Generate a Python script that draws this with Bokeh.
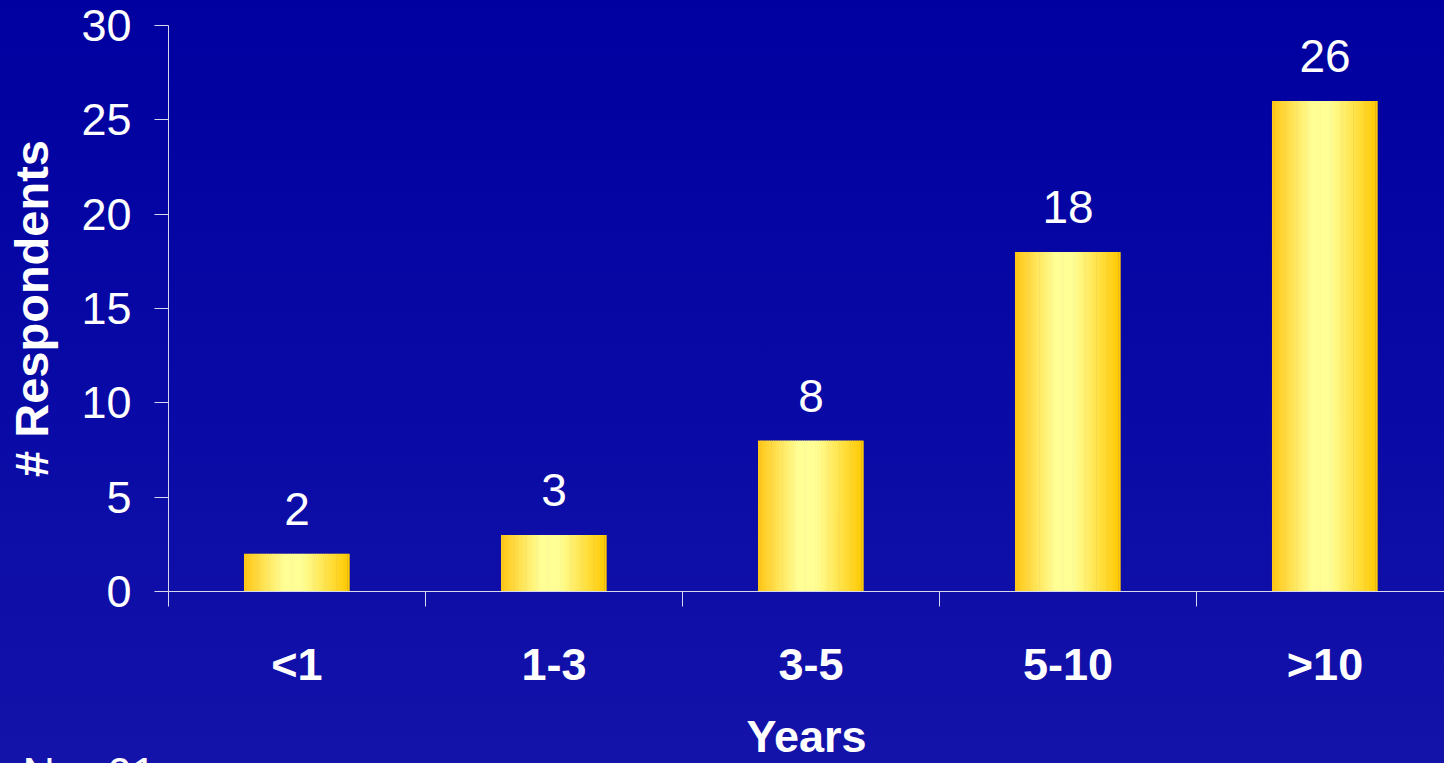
import re
from bokeh.plotting import figure
from bokeh.models import Range1d, FixedTicker, Title
from bokeh.core.properties import value
from bokeh.embed import file_html
from bokeh.resources import INLINE

# ---- data ----
categories = ["<1", "1-3", "3-5", "5-10", ">10"]
respondents = [2, 3, 8, 18, 26]
y_ticks = [0, 5, 10, 15, 20, 25, 30]
x_title = "Years"
y_title = "# Respondents"
note = "N = 61"

FONT = "Liberation Sans"
WHITE = "#FFFFFF"
AXIS = "#D8D8EC"

n = len(categories)
centers = [i + 0.5 for i in range(n)]
bar_w = 0.41

p = figure(frame_width=1276, frame_height=566, output_backend="svg", toolbar_location=None,
           x_range=Range1d(0, 4.965), y_range=Range1d(0, 30),
           min_border_left=168, min_border_right=0, min_border_top=25,
           min_border_bottom=0)
p.background_fill_alpha = 0
p.border_fill_alpha = 0
p.styles = {"background": "linear-gradient(to bottom, #0000A0 0%, #0A0AA6 55%, #1414AA 100%)"}
p.outline_line_color = None
p.xgrid.visible = False
p.ygrid.visible = False

# gradient bars built from thin strips
stops = [(0.0, (255, 198, 20)), (0.38, (255, 255, 150)), (0.55, (255, 255, 150)), (1.0, (255, 200, 0))]

def grad(t):
    for (t0, c0), (t1, c1) in zip(stops[:-1], stops[1:]):
        if t0 <= t <= t1:
            f = (t - t0) / (t1 - t0)
            return "#%02X%02X%02X" % tuple(int(round(a + (b - a) * f)) for a, b in zip(c0, c1))
    return "#FFC800"

NS = 48
xs, ws, tops, cols = [], [], [], []
for c, v in zip(centers, respondents):
    sw = bar_w / NS
    for k in range(NS):
        xs.append(c - bar_w / 2 + (k + 0.5) * sw)
        ws.append(sw * 1.3 if k < NS - 1 else sw)
        tops.append(v)
        cols.append(grad((k + 0.5) / NS))
p.vbar(x=xs, width=ws, top=tops, bottom=0, fill_color=cols, line_color=None)

# value labels
p.text(x=centers, y=respondents, text=[str(v) for v in respondents],
       text_align="center", text_baseline="alphabetic", y_offset=-45,
       text_font=value(FONT), text_font_size="46px", text_color=WHITE)

# x axis
xa = p.xaxis[0]
xa.ticker = FixedTicker(ticks=centers, minor_ticks=list(range(n + 1)))
xa.major_label_overrides = {c: cat for c, cat in zip(centers, categories)}
xa.major_tick_line_color = None
xa.major_tick_out = 0
xa.major_tick_in = 0
xa.minor_tick_out = 15
xa.minor_tick_in = 0
xa.minor_tick_line_color = AXIS
xa.axis_line_color = AXIS
xa.major_label_text_font = FONT
xa.major_label_text_font_style = "bold"
xa.major_label_text_font_size = "45px"
xa.major_label_text_color = WHITE
xa.major_label_standoff = 32
xa.axis_label = x_title
xa.axis_label_text_font = FONT
xa.axis_label_text_font_style = "bold"
xa.axis_label_text_font_size = "45px"
xa.axis_label_text_color = WHITE
xa.axis_label_standoff = 18

# y axis
ya = p.yaxis[0]
ya.ticker = FixedTicker(ticks=y_ticks)
ya.minor_tick_line_color = None
ya.major_tick_out = 14
ya.major_tick_in = 0
ya.major_tick_line_color = AXIS
ya.axis_line_color = AXIS
ya.major_label_text_font = FONT
ya.major_label_text_font_size = "45px"
ya.major_label_text_color = WHITE
ya.major_label_standoff = 23
ya.axis_label = y_title
ya.axis_label_text_font = FONT
ya.axis_label_text_font_style = "bold"
ya.axis_label_text_font_size = "47px"
ya.axis_label_text_color = WHITE
ya.axis_label_standoff = 20

# footnote below the axis title (partly below the window, as in the reference)
p.add_layout(Title(text=note, align="left", offset=-146, standoff=-34,
                   vertical_align="top",
                   text_font=FONT, text_font_style="normal",
                   text_font_size="45px", text_color=WHITE), "below")

html = file_html(p, INLINE)
html = re.sub(r"<body[^>]*>", '<body style="margin:0;overflow:hidden;background:#0000A0;">',
              html, count=1)
open("out.html", "w").write(html)
